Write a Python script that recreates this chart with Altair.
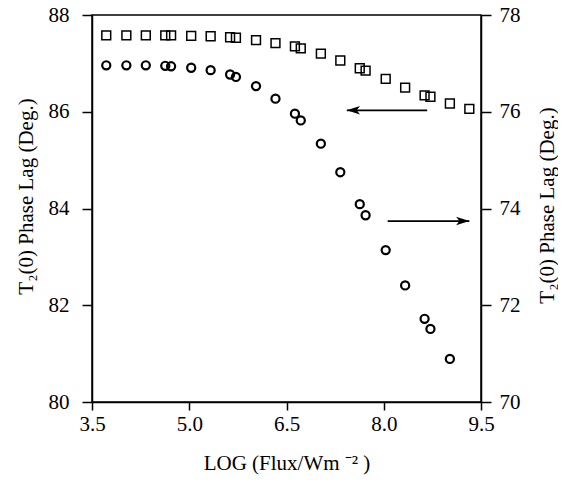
import altair as alt
import pandas as pd

# ---- data ----
x_sq = [3.72, 4.03, 4.33, 4.63, 4.72, 5.03, 5.33, 5.63, 5.72, 6.03, 6.33, 6.63,
        6.72, 7.03, 7.33, 7.63, 7.72, 8.03, 8.33, 8.63, 8.72, 9.02, 9.32]
y_sq = [87.58, 87.58, 87.58, 87.58, 87.58, 87.57, 87.56, 87.54, 87.53, 87.48, 87.42, 87.35,
        87.31, 87.20, 87.06, 86.90, 86.85, 86.68, 86.50, 86.34, 86.31, 86.17, 86.06]

x_ci = [3.72, 4.03, 4.33, 4.63, 4.72, 5.03, 5.33, 5.63, 5.72, 6.03, 6.33, 6.63,
        6.72, 7.03, 7.33, 7.63, 7.72, 8.03, 8.33, 8.63, 8.72, 9.02]
y_ci = [76.96, 76.96, 76.96, 76.95, 76.94, 76.91, 76.86, 76.77, 76.72, 76.53, 76.27, 75.96,
        75.82, 75.34, 74.75, 74.09, 73.86, 73.14, 72.41, 71.72, 71.51, 70.89]

# annotation arrows (data coordinates)
left_arrow_x = [7.43, 8.67]
left_arrow_y = [86.03]
right_arrow_x = [8.06, 9.32]
right_arrow_y = [73.74]

x_ticks = [3.5, 5.0, 6.5, 8.0, 9.5]
left_ticks = [80, 82, 84, 86, 88]
right_ticks = [70, 72, 74, 76, 78]

FONT = "Liberation Serif"

sq_df = pd.DataFrame({"x": x_sq, "y": y_sq})
ci_df = pd.DataFrame({"x": x_ci, "y": y_ci})
la_df = pd.DataFrame({"x": [left_arrow_x[0]], "x2": [left_arrow_x[1]], "y": left_arrow_y})
ra_df = pd.DataFrame({"x": [right_arrow_x[0]], "x2": [right_arrow_x[1]], "y": right_arrow_y})
ra_head_df = pd.DataFrame({"x": [right_arrow_x[1]], "y": right_arrow_y})

xscale = alt.Scale(domain=[3.5, 9.5], nice=False, zero=False)
xaxis = alt.Axis(values=x_ticks, format=".1f", title="LOG (Flux/Wm ⁻² )",
                 tickSize=8, labelPadding=3, titleY=67, titleBaseline="alphabetic")

lscale = alt.Scale(domain=[80, 88], nice=False, zero=False)
laxis = alt.Axis(values=left_ticks, orient="left", title="T₂(0) Phase Lag (Deg.)",
                 tickSize=10, labelPadding=13, titleAngle=270, titleX=-66, titleY=181,
                 titleBaseline="middle", titleAlign="center")

rscale = alt.Scale(domain=[70, 78], nice=False, zero=False)
raxis = alt.Axis(values=right_ticks, orient="right", title="T₂(0) Phase Lag (Deg.)",
                 tickSize=10, labelPadding=8, titleAngle=270, titleX=66, titleY=190,
                 titleBaseline="middle", titleAlign="center")

X = alt.X("x:Q", scale=xscale, axis=xaxis)
YL = alt.Y("y:Q", scale=lscale, axis=laxis)
YR = alt.Y("y:Q", scale=rscale, axis=raxis)

squares = alt.Chart(sq_df).mark_point(
    shape="square", filled=False, color="black", size=78, strokeWidth=1.5, opacity=1
).encode(x=X, y=YL)

la_rule = alt.Chart(la_df).mark_rule(color="black", strokeWidth=1.7).encode(
    x=X, x2="x2:Q", y=YL)
la_head = alt.Chart(la_df).mark_point(
    shape="M0,0L1,-0.32L0.75,0L1,0.32Z", filled=True, color="black", size=700,
    opacity=1, strokeWidth=0
).encode(x=X, y=YL)

circles = alt.Chart(ci_df).mark_point(
    shape="circle", filled=False, color="black", size=66, strokeWidth=2.2, opacity=1
).encode(x=X, y=YR)

ra_rule = alt.Chart(ra_df).mark_rule(color="black", strokeWidth=1.7).encode(
    x=X, x2="x2:Q", y=YR)
ra_head = alt.Chart(ra_head_df).mark_point(
    shape="M0,0L-1,-0.32L-0.75,0L-1,0.32Z", filled=True, color="black", size=700,
    opacity=1, strokeWidth=0
).encode(x=X, y=YR)

left_group = alt.layer(squares, la_rule, la_head)
right_group = alt.layer(circles, ra_rule, ra_head)

chart = alt.layer(left_group, right_group).resolve_scale(y="independent").properties(
    width=389, height=387,
    autosize=alt.AutoSizeParams(type="none"),
    padding={"left": 84, "top": 7, "right": 77, "bottom": 75},
    background="white",
).configure_view(
    stroke="black", strokeWidth=1.5
).configure_axis(
    grid=False, labelFont=FONT, titleFont=FONT, labelFontSize=21, titleFontSize=21,
    labelColor="black", titleColor="black", domainColor="black", tickColor="black",
    domainWidth=1.5, tickWidth=1.5, titleFontWeight="normal", labelFlush=False,
    labelOverlap=False
)

chart.save("out.html", embed_options={"renderer": "svg", "actions": False})
